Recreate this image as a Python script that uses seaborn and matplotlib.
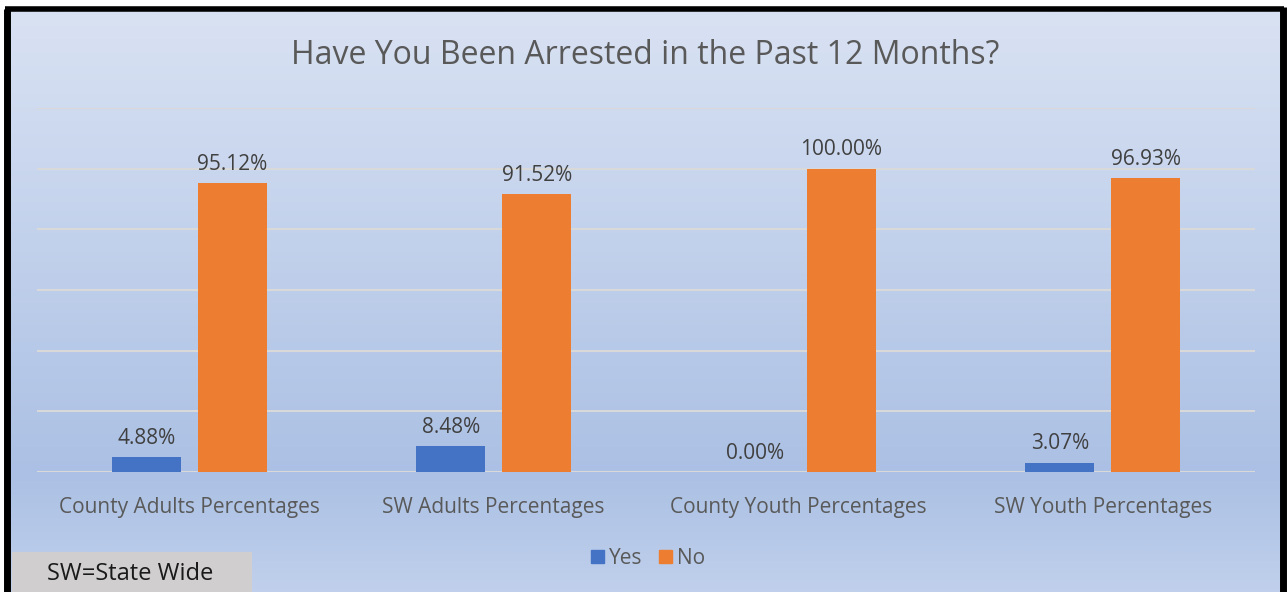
import numpy as np
import pandas as pd
import matplotlib
matplotlib.use("Agg")
import matplotlib.pyplot as plt
import matplotlib.patches as mpatches
from matplotlib.colors import LinearSegmentedColormap
import seaborn as sns

categories = ["County Adults Percentages", "SW Adults Percentages",
              "County Youth Percentages", "SW Youth Percentages"]
yes_vals = [4.88, 8.48, 0.00, 3.07]
no_vals = [95.12, 91.52, 100.00, 96.93]
series = ["Yes", "No"]
colors = ["#4472C4", "#ED7D31"]
title = "Have You Been Arrested in the Past 12 Months?"
note = "SW=State Wide"

df = pd.DataFrame({
    "cat": categories * 2,
    "val": yes_vals + no_vals,
    "series": ["Yes"] * len(categories) + ["No"] * len(categories),
})

sns.set_theme(style="white")
plt.rcParams["font.family"] = ["Open Sans", "DejaVu Sans"]

W, H = 1287, 592
fig = plt.figure(figsize=(W / 100, H / 100), dpi=100)
fig.patch.set_facecolor("white")

# background gradient
bg = fig.add_axes([0, 0, 1, 1], zorder=-10)
cmap = LinearSegmentedColormap.from_list(
    "g", [(0.0, "#D9E2F3"), (0.80, "#ABC0E4"), (1.0, "#C0D0EC")])
grad = np.linspace(0, 1, 300).reshape(-1, 1)
bg.imshow(grad, aspect="auto", cmap=cmap, extent=[7, W - 4, H, 9],
          origin="upper")
bg.set_xlim(0, W)
bg.set_ylim(H, 0)
bg.axis("off")
# black frame
bg.plot([7, 7], [9, H + 5], color="black", lw=5, solid_capstyle="butt")
bg.plot([5, W - 3], [9, 9], color="black", lw=4, solid_capstyle="butt")
bg.plot([W - 4, W - 4], [7, H + 5], color="black", lw=5, solid_capstyle="butt")
# note box
bg.add_patch(mpatches.Rectangle((12, 552), 240, 42, facecolor="#D0CECE",
                                edgecolor="none"))
bg.text(47, 574, note, fontsize=17, color="#1a1a1a", va="center", ha="left")

ax = fig.add_axes([37 / W, (H - 472) / H, (1255 - 37) / W, (472 - 108) / H])
ax.patch.set_alpha(0)
sns.barplot(data=df, x="cat", y="val", hue="series", hue_order=series,
            palette=colors, width=0.565, gap=0.2, ax=ax, saturation=1,
            legend=False, zorder=3, linewidth=0, edgecolor="none")
ax.set_ylim(0, 120)
ax.set_yticks(np.arange(0, 121, 20))
ax.set_yticklabels([])
ax.set_xlim(-0.5, 3.5)
ax.grid(axis="y", color="#D9D9D9", lw=1.5, zorder=0)
ax.set_axisbelow(True)
for s in ax.spines.values():
    s.set_visible(False)
ax.set_xlabel("")
ax.set_ylabel("")
ax.tick_params(axis="x", length=0, pad=18, labelsize=15, labelcolor="#595959")
ax.tick_params(axis="y", length=0)
for cont in ax.containers:
    ax.bar_label(cont, fmt="%.2f%%", padding=6, fontsize=15, color="#404040")

fig.text(645 / W, 1 - 55 / H, title, ha="center", va="center",
         fontsize=23, color="#595959")

handles = [mpatches.Patch(color=c, label=s) for c, s in zip(colors, series)]
leg = fig.legend(handles=handles, loc="center", bbox_to_anchor=(648 / W, 1 - 558 / H),
                 ncol=2, frameon=False, fontsize=15, handlelength=0.6,
                 handleheight=0.6, handletextpad=0.25, columnspacing=0.8)
for t in leg.get_texts():
    t.set_color("#595959")

fig.savefig("out.png", dpi=100)
